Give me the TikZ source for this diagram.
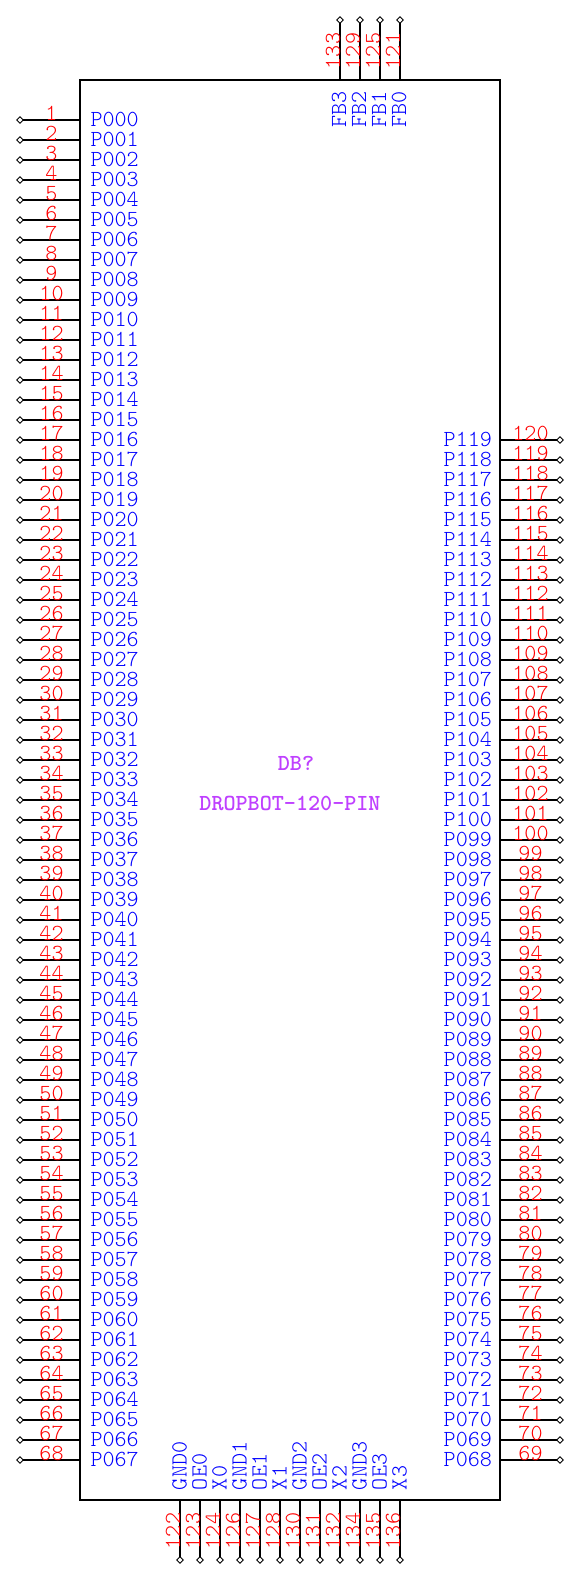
\documentclass[tikz,border=0pt]{standalone}
\usetikzlibrary{shapes.geometric}
\definecolor{pinnum}{HTML}{FF0000}
\definecolor{pinname}{HTML}{0000FF}
\definecolor{partref}{HTML}{BF40FF}
\newcommand{\pinpad}[1]{\ifnum#1<100 0\fi\ifnum#1<10 0\fi#1}
\newcommand{\monofont}{\fontsize{23}{23}\fontseries{l}\ttfamily\selectfont}
\newcommand{\monobold}{\fontsize{23}{23}\fontseries{b}\ttfamily\selectfont}
\tikzset{
  x=1pt,y=-1pt,
  every node/.style={inner sep=0pt,outer sep=0pt},
  body/.style={draw=black,line width=1.5pt,fill=white,rectangle,minimum width=420pt,minimum height=1420pt},
  pinend/.style={diamond,draw=black,fill=white,line width=0.9pt,minimum width=6.5pt,minimum height=6.5pt},
  pinline/.style={draw=black,line width=1.5pt},
  numtext/.style={text=pinnum,font=\monofont},
  nametext/.style={text=pinname,font=\monofont},
  reftext/.style={text=partref,font=\monobold}
}
\begin{document}
\begin{tikzpicture}
\useasboundingbox (0,0) rectangle (580,1580);
\node[body] (ic) at (290,790) {};
% left pins
\foreach \n in {1,...,68}{
  \pgfmathtruncatemacro{\yy}{100+20*\n}
  \pgfmathtruncatemacro{\pp}{\n-1}
  \node[pinend] (L\n) at (20,\yy) {};
  \draw[pinline] (L\n) -- (L\n -| ic.west);
  \node[numtext,anchor=base] (LN\n) at (51.5,\yy) {\n};
  \node[nametext,anchor=base west] (LP\n) at (90.5,\yy+6.5) {P\pinpad{\pp}};
}
% right pins
\foreach \n in {69,...,120}{
  \pgfmathtruncatemacro{\yy}{1460-20*(\n-69)}
  \pgfmathtruncatemacro{\pp}{\n-1}
  \node[pinend] (R\n) at (560,\yy) {};
  \draw[pinline] (R\n -| ic.east) -- (R\n);
  \node[numtext,anchor=base] (RN\n) at (530.5,\yy) {\n};
  \node[nametext,anchor=base east] (RP\n) at (492,\yy+6.5) {P\pinpad{\pp}};
}
% top pins
\foreach \xx/\n/\lab in {340/133/FB3,360/129/FB2,380/125/FB1,400/121/FB0}{
  \node[pinend] (T\n) at (\xx,20) {};
  \draw[pinline] (T\n) -- (T\n |- ic.north);
  \node[numtext,anchor=base,rotate=90] (TN\n) at (\xx,51) {\n};
  \node[nametext,anchor=base east,rotate=90] (TP\n) at (\xx+6,91) {\lab};
}
% bottom pins
\foreach \xx/\n/\lab in {180/122/GND0,200/123/OE0,220/124/X0,240/126/GND1,260/127/OE1,280/128/X1,300/130/GND2,320/131/OE2,340/132/X2,360/134/GND3,380/135/OE3,400/136/X3}{
  \node[pinend] (B\n) at (\xx,1560) {};
  \draw[pinline] (B\n |- ic.south) -- (B\n);
  \node[numtext,anchor=base,rotate=90] (BN\n) at (\xx,1531) {\n};
  \node[nametext,anchor=base west,rotate=90] (BP\n) at (\xx+6.5,1490) {\lab};
}
\node[reftext,anchor=base] (ref) at (296,770) {DB?};
\node[reftext,anchor=base] (val) at (290,810) {DROPBOT-120-PIN};
\end{tikzpicture}
\end{document}
